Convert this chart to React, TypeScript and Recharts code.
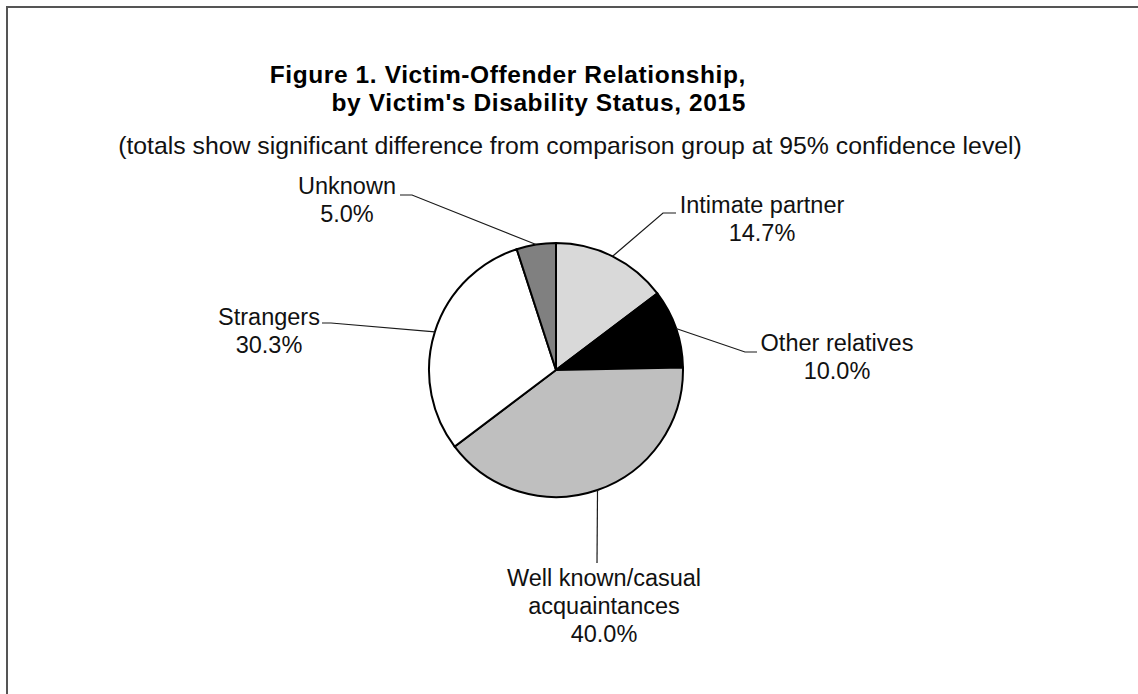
import React from 'react';
import { PieChart, Pie, Cell } from 'recharts';

// Victim-offender relationship, share of victims (%)
const categories = ['Intimate partner', 'Other relatives', 'Well known/casual acquaintances', 'Strangers', 'Unknown'];
const values = [14.7, 10.0, 40.0, 30.3, 5.0];
const labelText = [['Intimate partner'], ['Other relatives'], ['Well known/casual', 'acquaintances'], ['Strangers'], ['Unknown']];
const sliceColors = ['#d9d9d9', '#000000', '#bfbfbf', '#ffffff', '#808080'];

const chartData = categories.map((name, i) => ({ name, value: values[i] }));

// leader-line elbow, tick end and text position, relative to pie centre
const LABEL_LAYOUT = [
  { ex: 107, ey: -157, hx: 120, tx: 206, ty: -157 },
  { ex: 189, ey: -18, hx: 201, tx: 281, ty: -19 },
  { ex: 41, ey: 193, hx: 41, tx: 48, ty: 216 },
  { ex: -225, ey: -47, hx: -234, tx: -287, ty: -45 },
  { ex: -144, ey: -175, hx: -156, tx: -209, ty: -176 },
];

const RAD = Math.PI / 180;
const FONT = '"Liberation Sans", Arial, Helvetica, sans-serif';

const renderLabel = (props: any) => {
  const { cx, cy, midAngle, outerRadius, index, value } = props;
  const lay = LABEL_LAYOUT[index];
  const sx = cx + outerRadius * Math.cos(-midAngle * RAD);
  const sy = cy + outerRadius * Math.sin(-midAngle * RAD);
  const ex = cx + lay.ex;
  const ey = cy + lay.ey;
  const hx = cx + lay.hx;
  const tx = cx + lay.tx;
  const lines = [...labelText[index], `${Number(value).toFixed(1)}%`];
  return (
    <g key={`lbl-${index}`}>
      <polyline
        points={`${sx},${sy} ${ex},${ey} ${hx},${ey}`}
        fill="none"
        stroke="#1a1a1a"
        strokeWidth={1.2}
      />
      <text x={tx} y={cy + lay.ty} textAnchor="middle" fontFamily={FONT} fontSize={23.5} fill="#111">
        {lines.map((l, i) => (
          <tspan key={i} x={tx} dy={i === 0 ? 0 : 28}>{l}</tspan>
        ))}
      </text>
    </g>
  );
};

const App: React.FC = () => {
  return (
    <div style={{ position: 'absolute', left: 0, top: 0, width: 1138, height: 694, background: '#fff', overflow: 'hidden' }}>
      <div style={{ position: 'absolute', left: 6, top: 6, width: 1132, height: 688, borderTop: '2px solid #555', borderLeft: '2px solid #555' }} />
      <div style={{ position: 'absolute', right: 392, top: 61, textAlign: 'right', whiteSpace: 'nowrap', fontFamily: FONT, fontWeight: 'bold', fontSize: 24.5, letterSpacing: '0.6px', lineHeight: '27.5px', color: '#000' }}>
        Figure 1. Victim-Offender Relationship,<br />by Victim's Disability Status, 2015
      </div>
      <div style={{ position: 'absolute', left: 570, top: 133, transform: 'translateX(-50%)', whiteSpace: 'nowrap', fontFamily: FONT, fontSize: 24.8, lineHeight: '26px', color: '#111' }}>
        (totals show significant difference from comparison group at 95% confidence level)
      </div>
      <div style={{ position: 'absolute', left: 0, top: 0 }}>
        <PieChart width={1138} height={694} margin={{ top: 0, right: 0, bottom: 0, left: 0 }}>
          <Pie
            data={chartData}
            dataKey="value"
            nameKey="name"
            cx={556}
            cy={370}
            outerRadius={127}
            startAngle={90}
            endAngle={-270}
            stroke="#000"
            strokeWidth={2}
            label={renderLabel}
            labelLine={false}
            isAnimationActive={false}
          >
            {chartData.map((entry, i) => (
              <Cell key={`cell-${i}`} fill={sliceColors[i]} />
            ))}
          </Pie>
        </PieChart>
      </div>
    </div>
  );
};

export default App;
